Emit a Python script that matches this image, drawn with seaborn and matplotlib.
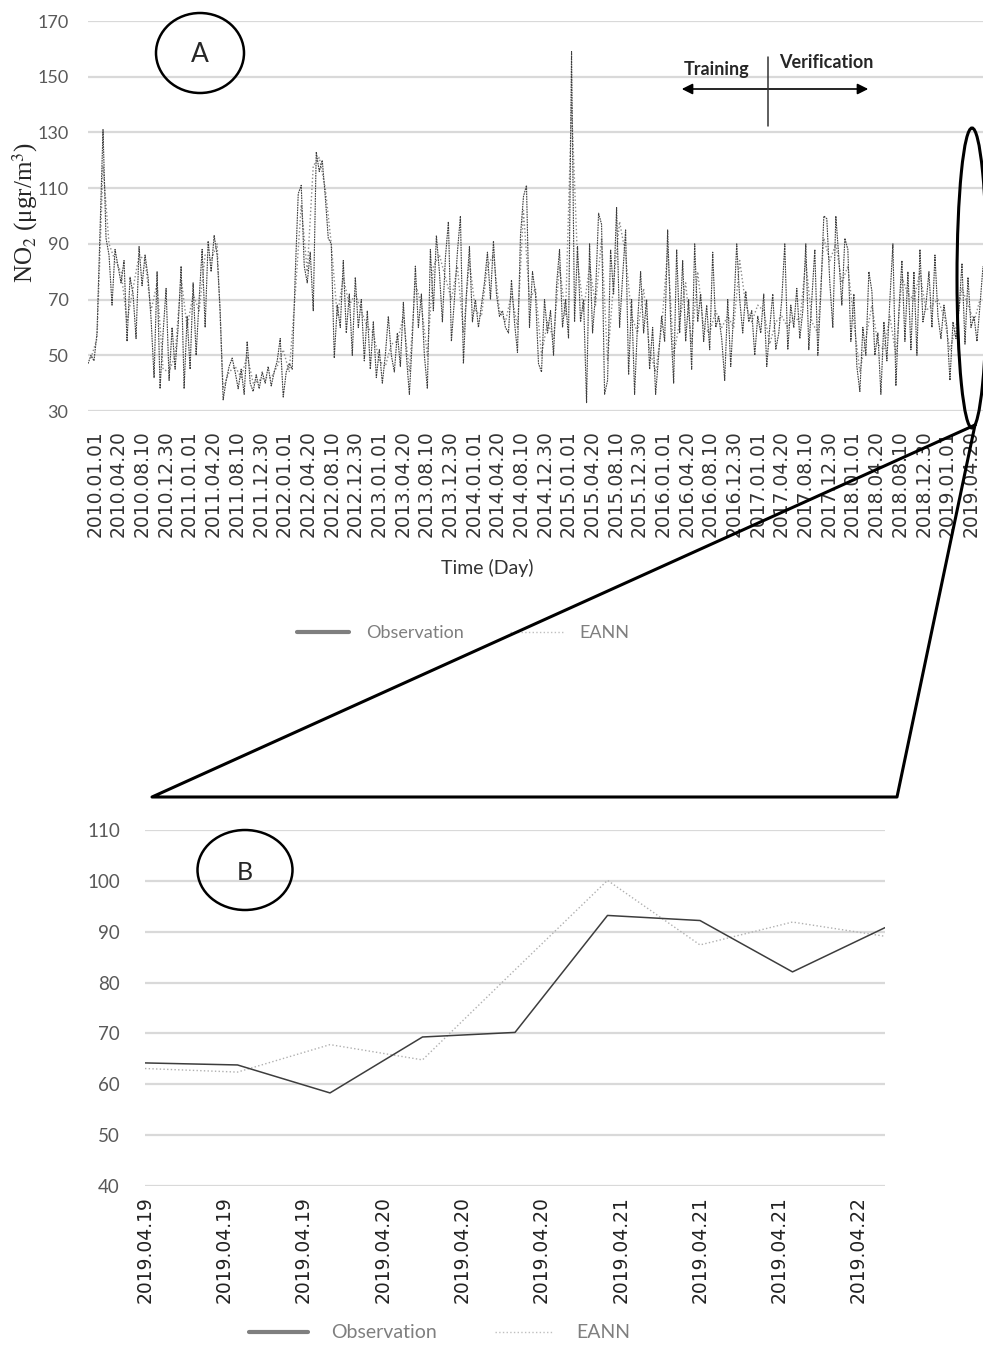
import numpy as np
import pandas as pd
import matplotlib
matplotlib.use("Agg")
import matplotlib.pyplot as plt
import seaborn as sns
from matplotlib.patches import Ellipse, FancyArrowPatch
from matplotlib.lines import Line2D

# ---- data: panel A (daily NO2, 2010.01.01 - 2019.04.22) ----
obs_a = [
    47, 50, 48, 58, 95, 131, 92, 86, 68, 88,
    82, 76, 84, 55, 78, 72, 56, 89, 75, 86,
    78, 63, 42, 80, 38, 58, 74, 41, 60, 45,
    60, 82, 38, 64, 45, 76, 50, 70, 88, 60,
    91, 80, 93, 86, 66, 34, 41, 46, 49, 44,
    38, 45, 36, 55, 40, 37, 43, 38, 44, 40,
    46, 39, 44, 48, 56, 35, 44, 47, 45, 79,
    108, 111, 82, 76, 87, 66, 123, 116, 120, 107,
    92, 90, 49, 68, 60, 84, 58, 72, 50, 78,
    60, 70, 48, 66, 45, 62, 42, 52, 40, 50,
    64, 50, 44, 58, 46, 69, 50, 36, 56, 82,
    60, 72, 50, 38, 88, 66, 93, 80, 62, 85,
    98, 55, 70, 87, 100, 47, 72, 89, 62, 70,
    60, 68, 76, 87, 70, 91, 72, 64, 66, 60,
    58, 77, 62, 51, 93, 107, 111, 60, 80, 72,
    47, 44, 70, 58, 66, 50, 75, 88, 60, 70,
    56, 159, 62, 89, 62, 70, 33, 90, 58, 72,
    101, 97, 36, 41, 88, 72, 103, 60, 78, 95,
    43, 70, 36, 62, 80, 58, 70, 45, 60, 36,
    50, 64, 55, 95, 62, 40, 88, 58, 84, 55,
    70, 45, 90, 62, 72, 55, 68, 52, 87, 60,
    64, 56, 41, 70, 46, 66, 90, 70, 58, 73,
    62, 66, 50, 64, 58, 72, 46, 60, 72, 52,
    58, 70, 90, 52, 68, 60, 74, 56, 66, 90,
    52, 70, 88, 50, 72, 100, 99, 76, 60, 100,
    85, 68, 92, 88, 55, 72, 46, 37, 60, 50,
    80, 73, 50, 58, 36, 62, 48, 70, 90, 39,
    66, 84, 55, 80, 52, 80, 50, 88, 62, 68,
    80, 60, 86, 64, 56, 68, 60, 41, 62, 56,
    66, 83, 54, 78, 60, 64, 55, 68, 82,
]
eann_a = [
    49, 56, 118, 90, 84, 80, 62, 74, 86, 84,
    66, 76, 45, 44, 50, 78, 60, 72, 66, 86,
    84, 90, 38, 44, 46, 42, 50, 40, 41, 42,
    42, 46, 52, 44, 72, 104, 80, 118, 121, 110,
    90, 64, 78, 68, 72, 66, 60, 58, 48, 46,
    54, 55, 64, 44, 76, 68, 50, 82, 86, 78,
    70, 82, 58, 84, 66, 64, 82, 86, 66, 62,
    72, 60, 102, 70, 74, 50, 62, 56, 82, 64,
    140, 84, 66, 82, 68, 92, 48, 76, 98, 86,
    64, 58, 74, 52, 44, 60, 88, 50, 62, 76,
    54, 80, 60, 58, 66, 60, 64, 60, 84, 68,
    62, 68, 66, 54, 62, 64, 60, 64, 62, 84,
    62, 58, 92, 84, 90, 76, 82, 62, 44, 56,
    68, 54, 52, 64, 50, 78, 72, 70, 80, 66,
    68, 70, 64, 52, 60, 74, 68, 62, 70,
]
a_ticklabels = [
    "2010.01.01", "2010.04.20", "2010.08.10", "2010.12.30",
    "2011.01.01", "2011.04.20", "2011.08.10", "2011.12.30",
    "2012.01.01", "2012.04.20", "2012.08.10", "2012.12.30",
    "2013.01.01", "2013.04.20", "2013.08.10", "2013.12.30",
    "2014.01.01", "2014.04.20", "2014.08.10", "2014.12.30",
    "2015.01.01", "2015.04.20", "2015.08.10", "2015.12.30",
    "2016.01.01", "2016.04.20", "2016.08.10", "2016.12.30",
    "2017.01.01", "2017.04.20", "2017.08.10", "2017.12.30",
    "2018.01.01", "2018.04.20", "2018.08.10", "2018.12.30",
    "2019.01.01", "2019.04.20",
]

# ---- data: panel B (zoom on last days) ----
obs_b = [64.2, 63.8, 58.3, 69.3, 70.2, 93.2, 92.2, 82.1, 90.8]
eann_b = [63.1, 62.4, 67.8, 64.8, 82.5, 100.1, 87.4, 91.9, 89.1]
b_ticklabels = ["2019.04.19", "2019.04.19", "2019.04.19",
                "2019.04.20", "2019.04.20", "2019.04.20",
                "2019.04.21", "2019.04.21", "2019.04.21",
                "2019.04.22"]

sns.set_style("white")
plt.rcParams['font.family'] = ['Lato', 'DejaVu Sans']
plt.rcParams['mathtext.fontset'] = 'stix'

W, H = 983, 1346
def fx(px):
    return px / W
def fy(py):
    return 1 - py / H

GRID = '#d9d9d9'
OBS_C = '#3d3d3d'
EANN_C = '#8a8a8a'

fig = plt.figure(figsize=(W / 100, H / 100), dpi=100)

# ---------------- panel A ----------------
axA = fig.add_axes([fx(88), fy(411), fx(983) - fx(88), fy(21) - fy(411)])
dfA_obs = pd.DataFrame({'t': np.arange(len(obs_a)), 'v': obs_a})
dfA_ann = pd.DataFrame({'t': np.arange(len(eann_a)) * 2 + 1, 'v': eann_a})
sns.lineplot(data=dfA_ann, x='t', y='v', ax=axA, color=EANN_C, lw=1.0,
             linestyle=':', zorder=3)
sns.lineplot(data=dfA_obs, x='t', y='v', ax=axA, color=OBS_C, lw=0.8,
             linestyle=(0, (1.5, 0.8)), zorder=4)
axA.set_xlim(0, len(obs_a) - 1)
axA.set_ylim(30, 170)
axA.set_yticks(range(30, 171, 20))
axA.set_xticks(np.linspace(2.3, 294, len(a_ticklabels)))
axA.set_xticklabels(a_ticklabels, rotation=90, family='DejaVu Sans',
                    fontsize=13.5, color='#333333', va='top')
axA.tick_params(axis='x', length=0, pad=14)
axA.tick_params(axis='y', length=0, pad=14, labelsize=13, labelcolor='#595959')
axA.grid(axis='y', color=GRID, lw=1.6)
axA.set_axisbelow(True)
axA.set_xlabel('')
axA.set_ylabel('')
sns.despine(ax=axA, left=True, bottom=True)

fig.text(fx(25), fy(212), 'NO$_2$ (μgr/m$^3$)', rotation=90, ha='center',
         va='center', fontsize=18, family='Liberation Serif')
fig.text(fx(487), fy(568), 'Time (Day)', ha='center', va='center',
         fontsize=14, color='#333333')

legA = [Line2D([0], [0], color='#7f7f7f', lw=3),
        Line2D([0], [0], color='#bfbfbf', lw=1, linestyle=':')]
axA.legend(legA, ['Observation', 'EANN'], loc='center',
           bbox_to_anchor=(fx(463), fy(633)), bbox_transform=fig.transFigure,
           ncol=2, frameon=False, fontsize=13, labelcolor='#7f7f7f',
           handlelength=2.9, columnspacing=2.6, handletextpad=0.9)

# circle A
fig.add_artist(Ellipse((fx(200), fy(53)), fx(88), 80 / H, fill=False,
                       lw=1.8, ec='black', transform=fig.transFigure))
fig.text(fx(200), fy(55), 'A', ha='center', va='center', fontsize=19)

# training / verification marker
fig.add_artist(Line2D([fx(768), fx(768)], [fy(57), fy(126)], color='#333333',
                      lw=1.1, transform=fig.transFigure))
fig.add_artist(FancyArrowPatch((fx(679), fy(89)), (fx(871), fy(89)),
                               arrowstyle='<|-|>', mutation_scale=16, lw=1.2,
                               color='black', transform=fig.transFigure))
fig.text(fx(717), fy(69), 'Training', ha='center', va='center',
         fontsize=13, fontweight='bold')
fig.text(fx(826), fy(62), 'Verification', ha='center', va='center',
         fontsize=13, fontweight='bold')

# zoom ellipse and connecting lines
fig.add_artist(Ellipse((fx(972), fy(278)), 30 / W, 300 / H, fill=False,
                       lw=2.2, ec='black', transform=fig.transFigure))
fig.add_artist(Line2D([fx(975), fx(152), fx(897), fx(975)],
                      [fy(425), fy(797), fy(797), fy(425)],
                      color='black', lw=2.2, transform=fig.transFigure))

# ---------------- panel B ----------------
axB = fig.add_axes([fx(145), fy(1186), fx(885) - fx(145), fy(830) - fy(1186)])
dfB = pd.DataFrame({'t': np.arange(len(obs_b)) * 7, 'obs': obs_b, 'eann': eann_b})
sns.lineplot(data=dfB, x='t', y='eann', ax=axB, color='#b0b0b0', lw=1.0,
             linestyle=':')
sns.lineplot(data=dfB, x='t', y='obs', ax=axB, color=OBS_C, lw=1.1)
axB.set_xlim(0, 56)
axB.set_ylim(40, 110)
axB.set_yticks(range(40, 111, 10))
axB.set_xticks(np.arange(len(b_ticklabels)) * 6)
axB.set_xticklabels(b_ticklabels, rotation=90, family='DejaVu Sans',
                    fontsize=13.5, color='#222222', va='top')
axB.tick_params(axis='x', length=0, pad=7)
axB.tick_params(axis='y', length=0, pad=18, labelsize=13.5, labelcolor='#595959')
axB.grid(axis='y', color=GRID, lw=1.6)
axB.set_axisbelow(True)
axB.set_xlabel('')
axB.set_ylabel('')
sns.despine(ax=axB, left=True, bottom=True)

fig.add_artist(Ellipse((fx(245), fy(870)), fx(95), 80 / H, fill=False,
                       lw=1.8, ec='black', transform=fig.transFigure))
fig.text(fx(245), fy(872), 'B', ha='center', va='center', fontsize=18)

legB = [Line2D([0], [0], color='#7f7f7f', lw=3),
        Line2D([0], [0], color='#bfbfbf', lw=1, linestyle=':')]
axB.legend(legB, ['Observation', 'EANN'], loc='center',
           bbox_to_anchor=(fx(440), fy(1333)), bbox_transform=fig.transFigure,
           ncol=2, frameon=False, fontsize=14, labelcolor='#7f7f7f',
           handlelength=3.0, columnspacing=3.0, handletextpad=1.2)

fig.savefig('out.png', dpi=100)
